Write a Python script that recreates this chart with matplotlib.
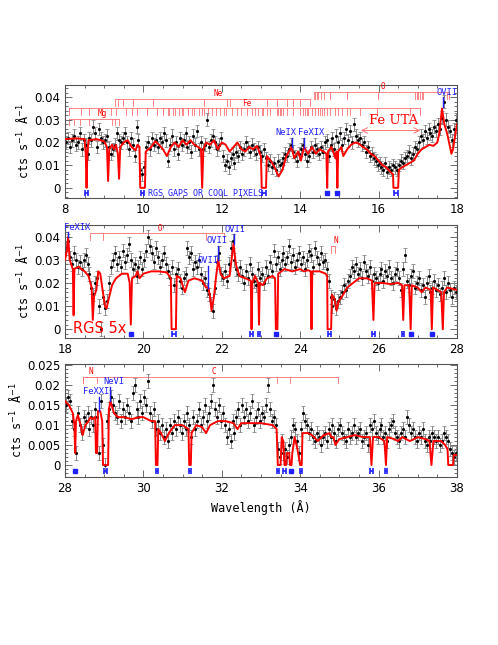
import numpy as np
import matplotlib
matplotlib.use("Agg")
import matplotlib.pyplot as plt
from matplotlib.ticker import MultipleLocator

# fluxes are in units of 1e-3 cts/s/A, one point every 0.05 A
flux1 = [20, 22, 18, 21, 23, 19, 20, 24, 17, 21,
         19, 15, 22, 21, 27, 24, 18, 26, 22, 20,
         21, 23, 18, 15, 17, 19, 24, 21, 20, 22,
         24, 20, 17, 22, 19, 14, 27, 21, 8, 6,
         9, 18, 20, 17, 22, 19, 21, 18, 22, 20,
         24, 21, 12, 19, 23, 17, 20, 15, 22, 19,
         21, 24, 18, 20, 16, 23, 19, 25, 17, 20,
         17, 19, 30, 18, 21, 23, 20, 17, 19, 22,
         14, 10, 12, 9, 13, 15, 11, 16, 14, 18,
         15, 17, 20, 18, 16, 19, 17, 15, 18, 16,
         14, 17, 13, 10, 12, 9, 11, 8, 12, 10,
         11, 13, 15, 14, 17, 19, 16, 14, 12, 15,
         17, 19, 15, 12, 14, 18, 16, 19, 17, 15,
         18, 16, 20, 21, 14, 19, 22, 17, 23, 20,
         24, 19, 22, 26, 21, 25, 20, 28, 23, 21,
         22, 19, 20, 16, 18, 14, 15, 13, 12, 10,
         11, 9, 8, 11, 7, 9, 8, 10, 9, 8,
         10, 12, 11, 13, 14, 16, 13, 15, 18, 17,
         20, 23, 21, 25, 22, 26, 24, 23, 27, 25,
         28, 26, 31, 38, 30, 27, 25, 21, 26, 30]
flux2 = [35, 38, 31, 28, 33, 30, 27, 29, 26, 30,
         32, 28, 24, 18, 15, 20, 22, 10, 0, 14,
         9, 12, 20, 27, 30, 33, 28, 31, 27, 34,
         29, 32, 37, 30, 26, 28, 23, 27, 31, 26,
         30, 34, 40, 36, 33, 29, 35, 31, 27, 30,
         33, 28, 25, 22, 27, 19, 24, 26, 21, 18,
         22, 24, 35, 31, 33, 26, 29, 27, 30, 24,
         20, 22, 17, 15, 11, 8, 18, 29, 33, 24,
         22, 25, 21, 28, 35, 38, 30, 26, 24, 27,
         23, 20, 25, 22, 28, 24, 21, 19, 26, 22,
         24, 20, 27, 23, 29, 25, 34, 28, 31, 26,
         30, 33, 28, 31, 36, 29, 32, 27, 30, 33,
         28, 31, 26, 30, 34, 32, 27, 35, 31, 28,
         33, 29, 30, 26, 21, 14, 10, 13, 9, 12,
         14, 16, 19, 17, 21, 23, 27, 25, 28, 24,
         26, 22, 29, 25, 23, 27, 21, 24, 22, 20,
         24, 26, 21, 25, 23, 27, 22, 20, 24, 26,
         22, 17, 26, 32, 21, 19, 23, 25, 18, 20,
         22, 17, 19, 14, 20, 23, 16, 18, 21, 17,
         19, 15, 18, 22, 16, 20, 17, 14, 18, 16]
flux3 = [15, 17, 16, 11, 9, 3, 13, 10, 8, 12,
         11, 13, 9, 12, 10, 14, 12, 3, 16, 5,
         0, 11, 14, 17, 15, 13, 12, 16, 11, 14,
         12, 15, 13, 11, 18, 20, 14, 12, 16, 13,
         17, 15, 21, 13, 11, 14, 9, 11, 8, 10,
         7, 9, 6, 10, 8, 11, 9, 12, 10, 8,
         11, 9, 13, 10, 7, 12, 9, 11, 14, 10,
         12, 15, 11, 13, 16, 20, 14, 12, 15, 11,
         13, 10, 7, 9, 6, 11, 8, 12, 14, 10,
         15, 12, 14, 11, 13, 16, 10, 12, 14, 11,
         13, 12, 15, 20, 14, 11, 12, 10, 4, 2,
         6, 3, 4, 2, 5, 7, 10, 9, 6, 3,
         9, 13, 11, 10, 8, 9, 7, 6, 8, 7,
         5, 7, 8, 6, 9, 7, 10, 8, 6, 9,
         10, 8, 7, 6, 9, 7, 8, 10, 7, 8,
         9, 6, 7, 8, 5, 10, 9, 11, 8, 7,
         9, 10, 7, 8, 6, 9, 10, 11, 8, 7,
         6, 8, 9, 7, 12, 10, 8, 9, 7, 6,
         8, 7, 9, 6, 5, 7, 6, 8, 7, 6,
         7, 5, 6, 8, 7, 6, 4, 3, 2, 3]
err = [2.8, 3.0, 1.8]

# model curve knots (wavelength, 1e-3 cts/s/A)
mod1_x = [8.0, 8.3, 8.5, 8.53, 8.55, 8.57, 8.6, 8.8, 9.0, 9.07, 9.1, 9.13, 9.2, 9.25, 9.3,
          9.35, 9.38, 9.41, 9.5, 9.6, 9.7, 9.8, 9.85, 9.9, 9.92, 10.04, 10.06, 10.2, 10.3,
          10.4, 10.5, 10.6, 10.7, 10.8, 10.9, 11.0, 11.1, 11.2, 11.3, 11.4, 11.47, 11.5,
          11.53, 11.6, 11.7, 11.8, 11.9, 12.0, 12.1, 12.2, 12.3, 12.4, 12.5, 12.6, 12.7,
          12.8, 12.9, 13.0, 13.02, 13.13, 13.15, 13.25, 13.35, 13.45, 13.55, 13.65, 13.78,
          13.85, 13.95, 14.02, 14.1, 14.2, 14.3, 14.4, 14.5, 14.6, 14.67, 14.69, 14.71,
          14.8, 14.9, 14.93, 14.95, 14.97, 15.05, 15.1, 15.2, 15.3, 15.4, 15.5, 15.6, 15.7,
          15.8, 15.9, 16.0, 16.1, 16.2, 16.3, 16.37, 16.38, 16.5, 16.52, 16.6, 16.7, 16.8,
          16.9, 17.0, 17.1, 17.2, 17.3, 17.4, 17.5, 17.55, 17.62, 17.68, 17.75, 17.8,
          17.86, 17.9, 18.0]
mod1_y = [21.5, 21.8, 21.5, 15, 0, 15, 21.0, 21.5, 20.5, 18, 3, 17, 19, 17, 19,
          15, 4, 18, 20, 21, 18, 16.5, 19, 18, 0, 0, 16, 18, 20.5,
          19, 17, 14, 18, 20, 18, 21, 19, 21, 19, 18, 17, 0,
          17, 20, 19, 21, 17, 20, 19, 16, 18, 20, 17, 16, 18,
          17, 18.5, 14, 0, 0, 14, 12, 9, 5, 8, 14, 18,
          13, 16, 12, 18, 15, 18, 15, 17, 16, 15, 0, 16,
          18, 13, 16, 0, 16, 18, 14, 17, 19, 20, 19.5, 18, 17,
          15, 14, 12, 10, 9, 7, 6, 0, 0, 8, 9, 10, 11,
          12, 15, 17, 18, 19, 18.5, 20, 24, 35, 28, 24, 20,
          15, 17, 28]
mod2_x = [18.0, 18.05, 18.08, 18.12, 18.2, 18.22, 18.24, 18.35, 18.5, 18.6, 18.68, 18.71,
          18.74, 18.8, 18.85, 18.9, 18.95, 19.02, 19.06, 19.1, 19.2, 19.3, 19.45, 19.6,
          19.65, 19.68, 19.71, 19.8, 19.85, 19.9, 20.0, 20.2, 20.4, 20.6, 20.7, 20.72,
          20.83, 20.85, 20.95, 21.0, 21.06, 21.15, 21.3, 21.5, 21.6, 21.66, 21.7, 21.74,
          21.8, 21.85, 21.91, 21.97, 22.05, 22.2, 22.25, 22.3, 22.36, 22.45, 22.6, 22.74,
          22.76, 22.78, 22.85, 22.93, 22.95, 22.97, 23.05, 23.15, 23.3, 23.36, 23.38,
          23.42, 23.44, 23.6, 23.8, 24.0, 24.1, 24.2, 24.27, 24.29, 24.31, 24.5, 24.65,
          24.69, 24.7, 24.79, 24.81, 24.88, 24.93, 24.98, 25.1, 25.2, 25.35, 25.5, 25.7,
          25.83, 25.87, 25.9, 26.1, 26.3, 26.5, 26.6, 26.63, 26.66, 26.78, 26.82, 26.85,
          27.0, 27.1, 27.2, 27.33, 27.36, 27.39, 27.5, 27.6, 27.64, 27.67, 27.75, 28.0]
mod2_y = [30, 34, 40, 30, 26, 6, 26, 27, 25, 23, 18, 4,
          14, 17, 25, 24, 18, 10, 9, 12, 19, 22, 24, 24,
          20, 2, 22, 23, 25, 22, 24, 25, 25, 24.5, 22, 0,
          0, 23, 22, 19, 16, 21, 22, 21, 18, 18, 14, 8,
          14, 22, 30, 24, 22, 23, 30, 37, 28, 23, 22, 21,
          0, 20, 23, 20, 2, 20, 19, 22, 23, 22, 0,
          0, 24, 26, 25, 26, 25, 25.5, 25, 0, 25, 25, 24,
          23, 0, 0, 15, 13, 8, 12, 15, 18, 20, 22, 22,
          21, 4, 20, 20, 19.5, 20, 19, 4, 19, 19, 0, 19,
          18, 16, 18, 17, 0, 18, 17, 16, 0, 16, 18, 17]
mod3_x = [28.0, 28.1, 28.2, 28.24, 28.26, 28.28, 28.33, 28.4, 28.45, 28.52, 28.6, 28.65,
          28.7, 28.77, 28.79, 28.82, 28.84, 28.9, 28.95, 28.97, 29.1, 29.12, 29.16, 29.25,
          29.35, 29.5, 29.7, 29.9, 30.0, 30.2, 30.3, 30.32, 30.36, 30.38, 30.45, 30.55,
          30.65, 30.8, 31.0, 31.15, 31.17, 31.21, 31.23, 31.35, 31.5, 31.6, 31.7, 31.9,
          32.1, 32.3, 32.4, 32.5, 32.7, 33.0, 33.3, 33.4, 33.43, 33.5, 33.53, 33.57, 33.6,
          33.64, 33.66, 33.72, 33.74, 33.78, 33.8, 33.86, 33.93, 34.0, 34.04, 34.06, 34.2,
          34.3, 34.45, 34.6, 34.75, 34.8, 34.85, 34.9, 35.0, 35.2, 35.4, 35.6, 35.78,
          35.82, 35.86, 36.0, 36.15, 36.19, 36.22, 36.4, 36.5, 36.6, 36.8, 37.0, 37.2,
          37.3, 37.35, 37.4, 37.6, 37.7, 37.76, 37.78, 37.9, 37.92, 38.0]
mod3_y = [16, 15, 13, 10, 3, 11, 12.5, 10, 7.5, 10, 11, 12,
          11.5, 12, 3, 3, 13.5, 13.5, 11, 0, 0, 14, 16, 13,
          12, 12, 11.5, 12, 12, 11, 11, 0, 0, 9, 8, 6,
          8, 10, 10, 9, 0, 0, 8, 10, 9.5, 8, 10, 11,
          11, 10.5, 9, 10.5, 10.5, 10.5, 10, 9, 0, 0, 7, 6, 0,
          0, 3, 3, 0, 0, 3, 7, 4, 0, 0, 8, 8,
          7.5, 6, 7.5, 8, 7, 7, 5, 6.5, 7, 7.5, 7, 7,
          0, 7, 7, 6, 0, 7, 6.5, 6, 7, 6, 7, 6.5,
          6, 0, 6, 6, 5, 4, 0, 0, 2.5, 2.5]

# RGS gaps / cool pixels (centre, half width)
gaps1 = [(8.55, 0.04), (9.98, 0.04), (13.08, 0.05), (14.69, 0.0), (14.95, 0.0), (16.44, 0.05)]
gaps2 = [(19.68, 0.0), (20.77, 0.05), (22.76, 0.03), (22.95, 0.03), (23.38, 0.0),
         (24.74, 0.04), (25.87, 0.04), (26.63, 0.03), (26.82, 0.0), (27.36, 0.0)]
gaps3 = [(28.26, 0.0), (29.03, 0.04), (30.34, 0.03), (31.19, 0.03), (33.44, 0.03),
         (33.6, 0.03), (33.76, 0.0), (34.02, 0.03), (35.82, 0.03), (36.19, 0.03)]

# ion line ladders: (label, label x, y of bar, tick positions)
ladders1 = [("Mg", 8.94, 30.5, [8.1, 8.23, 8.38, 8.6, 9.19, 9.28, 9.38]),
            ("Fe", 12.63, 35.2, [8.09, 8.4, 8.62, 8.95, 9.18, 9.3, 9.55, 9.72, 9.85, 10.1,
                                 10.35, 10.5, 10.62, 10.66, 10.75, 10.8, 10.9, 10.98, 11.02,
                                 11.15, 11.25, 11.3, 11.42, 11.5, 11.55, 11.65, 11.75, 11.85,
                                 11.95, 12.05, 12.12, 12.25, 12.4, 12.5, 12.65, 12.76, 12.85,
                                 12.93, 13.02, 13.06, 13.15, 13.23, 13.4, 13.44, 13.48, 13.52,
                                 13.57, 13.66, 13.83, 14.0, 14.08, 14.12, 14.17, 14.21, 14.29,
                                 14.38, 14.46, 14.5, 14.55, 14.6, 14.68, 14.76, 14.89, 14.97,
                                 15.06, 15.19, 15.27, 15.53, 15.95, 16.8, 17.06]),
            ("Ne", 11.91, 39.3, [9.28, 9.34, 9.49, 9.73, 10.25, 11.55, 12.14, 12.2, 13.15,
                                 13.4, 13.66, 13.83, 14.0, 14.25]),
            ("O", 16.12, 42.3, [14.35, 14.39, 14.42, 14.46, 14.52, 14.61, 14.76, 15.19,
                                15.99, 16.93, 16.97, 17.01, 17.06, 17.1, 17.14, 17.74, 17.8])]
ladders2 = [("O", 20.43, 41.5, [18.64, 18.97, 21.6, 22.06]),
            ("N", 24.92, 36.0, [24.8, 24.88])]
ladders3 = [("C", 31.8, 22.1, [28.45, 33.42, 33.74, 34.97]),
            ("N", 28.66, 22.1, [28.45, 28.81])]

# blue line ids: (label, wavelength, line bottom, line top, label centre)
ids1 = [("NeIX", 13.78, 18, 22, 13.64), ("FeXIX", 14.1, 17.5, 22, 14.29),
        ("OVII", 17.65, 35.5, 40, 17.75)]
ids2 = [("FeXIX", 18.08, 40, 42, 18.3), ("OVII", 21.66, 18, 27.5, 21.65),
        ("OVII", 21.91, 30, 36, 21.88), ("OVII", 22.3, 37, 41, 22.34)]
ids3 = [("FeXXI", 28.87, 13.5, 17, 28.8), ("NeVI", 29.16, 16, 19.5, 29.26)]

panels = [
    dict(x0=8.0, flux=flux1, err=err[0], mx=mod1_x, my=mod1_y, gaps=gaps1, lad=ladders1,
         ids=ids1, ylim=(-4.5, 45.3), minor=2, gapy=-2.4, tlen=3.0, ticks=[0, 10, 20, 30, 40]),
    dict(x0=18.0, flux=flux2, err=err[1], mx=mod2_x, my=mod2_y, gaps=gaps2, lad=ladders2,
         ids=ids2, ylim=(-3.8, 45.0), minor=2, gapy=-2.0, tlen=3.0, ticks=[0, 10, 20, 30, 40]),
    dict(x0=28.0, flux=flux3, err=err[2], mx=mod3_x, my=mod3_y, gaps=gaps3, lad=ladders3,
         ids=ids3, ylim=(-3.0, 25.3), minor=1, gapy=-1.5, tlen=1.6,
         ticks=[0, 5, 10, 15, 20, 25]),
]

mono = "DejaVu Sans Mono"
blue = "#2020ff"
lad_col = "#ff7070"

fig = plt.figure(figsize=(4.98, 6.45), dpi=100)
bottoms = [0.693, 0.476, 0.2605]

for p, b in zip(panels, bottoms):
    ax = fig.add_axes([0.1305, b, 0.787, 0.175])
    wl = p["x0"] + 0.025 + 0.05 * np.arange(len(p["flux"]))
    ax.errorbar(wl, p["flux"], yerr=p["err"], fmt=".", color="black", ms=2.5,
                ecolor="#888888", elinewidth=0.7, capsize=1.3, capthick=0.6, zorder=2)
    ax.plot(p["mx"], p["my"], color="red", lw=1.4, zorder=3)

    # gaps
    for c, hw in p["gaps"]:
        if hw > 0:
            ax.errorbar([c], [p["gapy"]], xerr=[hw], fmt="none", ecolor=blue,
                        elinewidth=1.2, capsize=2, capthick=1.2, zorder=4)
        else:
            ax.plot([c], [p["gapy"]], "s", color=blue, ms=2.5, zorder=4)

    # ladders
    for lab, lx, ly, ticks in p["lad"]:
        ax.plot([min(ticks), max(ticks)], [ly, ly], color=lad_col, lw=0.6, zorder=1)
        for t in ticks:
            ax.plot([t, t], [ly, ly - p["tlen"]], color=lad_col, lw=0.6, zorder=1)
        ax.text(lx, ly + 0.2, lab, color="red", fontsize=5.5, family=mono,
                ha="center", va="bottom")

    # line ids
    for lab, wl_id, y0, y1, lx in p["ids"]:
        ax.plot([wl_id, wl_id], [y0, y1], color=blue, lw=1.0, zorder=4)
        ax.text(lx, y1 + 0.2, lab, color=blue, fontsize=6.3, family=mono,
                ha="center", va="bottom", zorder=5)

    ax.set_xlim(p["x0"], p["x0"] + 10)
    ax.set_ylim(p["ylim"])
    ax.xaxis.set_major_locator(MultipleLocator(2))
    ax.xaxis.set_minor_locator(MultipleLocator(0.5))
    ax.yaxis.set_minor_locator(MultipleLocator(p["minor"]))
    ax.set_yticks(p["ticks"])
    ax.set_yticklabels([f"{v / 1000:g}" for v in p["ticks"]])
    ax.tick_params(which="both", direction="in", top=True, right=True, labelsize=8.5,
                   width=0.6, color="#555555")
    ax.tick_params(which="major", length=5)
    ax.tick_params(which="minor", length=2.5)
    for s in ax.spines.values():
        s.set_linewidth(0.8)
        s.set_color("#555555")
    ax.set_ylabel("cts s$^{-1}$ Å$^{-1}$", fontsize=8.5, family=mono, labelpad=2)

    if p["x0"] == 8.0:
        ax.text(10.13, p["gapy"], "RGS GAPS OR COOL PIXELS", color=blue, fontsize=6,
                family=mono, va="center")
        ax.text(16.38, 26.8, "Fe UTA", color="red", fontsize=9.5, family="DejaVu Serif",
                ha="center", va="bottom")
        ax.annotate("", xy=(15.48, 25.3), xytext=(17.14, 25.3),
                    arrowprops=dict(arrowstyle="<->", color=lad_col, lw=0.7))
    if p["x0"] == 18.0:
        ax.text(18.2, 0.3, "RGS 5x", color="red", fontsize=10.5, va="center")
    if p["x0"] == 28.0:
        ax.set_xlabel("Wavelength (Å)", fontsize=8.5, family=mono)

fig.savefig("out.png", dpi=100)
